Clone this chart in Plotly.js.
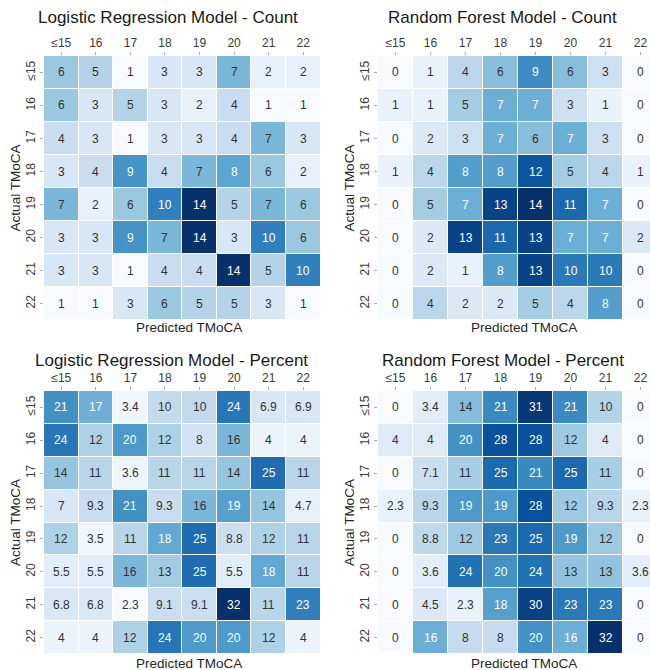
<!DOCTYPE html>
<html><head><meta charset="utf-8">
<script src="https://cdn.plot.ly/plotly-3.0.1.min.js"></script>
<style>html,body{margin:0;padding:0;overflow:hidden;background:#fff}#chart{width:660px;height:670px}</style>
</head><body><div id="chart"></div>
<script>
const tmocaLabels = ['≤15','16','17','18','19','20','21','22'];
const panelTitles = ['Logistic Regression Model - Count','Random Forest Model - Count','Logistic Regression Model - Percent','Random Forest Model - Percent'];
const xAxisTitle = 'Predicted TMoCA';
const yAxisTitle = 'Actual TMoCA';

const lrCount = [
  [6,5,1,3,3,7,2,2],
  [6,3,5,3,2,4,1,1],
  [4,3,1,3,3,4,7,3],
  [3,4,9,4,7,8,6,2],
  [7,2,6,10,14,5,7,6],
  [3,3,9,7,14,3,10,6],
  [3,3,1,4,4,14,5,10],
  [1,1,3,6,5,5,3,1]
];
const rfCount = [
  [0,1,4,6,9,6,3,0],
  [1,1,5,7,7,3,1,0],
  [0,2,3,7,6,7,3,0],
  [1,4,8,8,12,5,4,1],
  [0,5,7,13,14,11,7,0],
  [0,2,13,11,13,7,7,2],
  [0,2,1,8,13,10,10,0],
  [0,4,2,2,5,4,8,0]
];
const lrPercent = [
  [21,17,3.4,10,10,24,6.9,6.9],
  [24,12,20,12,8,16,4,4],
  [14,11,3.6,11,11,14,25,11],
  [7,9.3,21,9.3,16,19,14,4.7],
  [12,3.5,11,18,25,8.8,12,11],
  [5.5,5.5,16,13,25,5.5,18,11],
  [6.8,6.8,2.3,9.1,9.1,32,11,23],
  [4,4,12,24,20,20,12,4]
];
const rfPercent = [
  [0,3.4,14,21,31,21,10,0],
  [4,4,20,28,28,12,4,0],
  [0,7.1,11,25,21,25,11,0],
  [2.3,9.3,19,19,28,12,9.3,2.3],
  [0,8.8,12,23,25,19,12,0],
  [0,3.6,24,20,24,13,13,3.6],
  [0,4.5,2.3,18,30,23,23,0],
  [0,16,8,8,20,16,32,0]
];

// matplotlib "Blues"
const bluesHex = ['#f7fbff','#deebf7','#c6dbef','#9ecae1','#6baed6','#4292c6','#2171b5','#08519c','#08306b'];
const bluesScale = bluesHex.map((c,i)=>[i/(bluesHex.length-1), c]);
function hexRgb(h){return [parseInt(h.slice(1,3),16),parseInt(h.slice(3,5),16),parseInt(h.slice(5,7),16)];}
function colorAt(t){
  t=Math.max(0,Math.min(1,t));
  const p=t*(bluesHex.length-1), i=Math.min(Math.floor(p),bluesHex.length-2), f=p-i;
  const a=hexRgb(bluesHex[i]), b=hexRgb(bluesHex[i+1]);
  return a.map((v,k)=>v+(b[k]-v)*f);
}
function lum(rgb){
  const l=rgb.map(v=>{v/=255;return v<=0.03928? v/12.92: Math.pow((v+0.055)/1.055,2.4);});
  return 0.2126*l[0]+0.7152*l[1]+0.0722*l[2];
}

const W=660,H=670;
// pixel boxes [left,right,top,bottom]
const boxes = [[44,320.5,56,320],[378,658,56,320],[44,320.5,391,654],[378,658,391,654]];
const titlePos = [[168,18],[502,18],[171,360],[503,360]];
const xtitlePos = [[189,328],[524,328],[189,663],[524,663]];
const mats = [lrCount, rfCount, lrPercent, rfPercent];

const data=[], annotations=[], layout={
  width:W,height:H,margin:{l:0,r:0,t:0,b:0},
  paper_bgcolor:'#fff',plot_bgcolor:'#fff',
  font:{family:'Liberation Sans, Arial, sans-serif',color:'#262626'},
  showlegend:false
};
const fmt = v => String(v);
mats.forEach((m,idx)=>{
  const n=idx===0?'':String(idx+1);
  const xa='x'+n, ya='y'+n;
  const flat=m.flat(); const zmin=Math.min(...flat), zmax=Math.max(...flat);
  data.push({type:'heatmap',x:tmocaLabels,y:tmocaLabels,z:m,xaxis:xa,yaxis:ya,
    colorscale:bluesScale,zmin:zmin,zmax:zmax,showscale:false,xgap:1,ygap:1,hoverinfo:'x+y+z'});
  const b=boxes[idx];
  layout['xaxis'+n]={domain:[b[0]/W,b[1]/W],anchor:ya,side:'top',type:'category',
    categoryorder:'array',categoryarray:tmocaLabels,range:[-0.5,7.5],ticks:'outside',ticklen:3,tickwidth:1,tickcolor:'#aaa',
    showgrid:false,zeroline:false,showline:false,tickfont:{size:12,color:'#3a3a3a'},fixedrange:true};
  layout['yaxis'+n]={domain:[1-b[3]/H,1-b[2]/H],anchor:xa,type:'category',range:[7.5,-0.5],
    categoryorder:'array',categoryarray:tmocaLabels,ticks:'outside',ticklen:3,tickwidth:1,tickcolor:'#aaa',
    tickangle:-90,showgrid:false,zeroline:false,showline:false,tickfont:{size:12,color:'#3a3a3a'},
    title:{text:yAxisTitle,font:{size:13.5,color:'#262626'},standoff:0},fixedrange:true};
  m.forEach((row,r)=>row.forEach((v,c)=>{
    const col=colorAt((v-zmin)/(zmax-zmin));
    annotations.push({xref:xa,yref:ya,x:c,y:r,text:fmt(v),showarrow:false,
      font:{size:12,color: lum(col)>0.408?'#333333':'#ffffff'}});
  }));
  annotations.push({xref:'paper',yref:'paper',x:titlePos[idx][0]/W,y:1-titlePos[idx][1]/H,xanchor:'center',yanchor:'middle',
    text:panelTitles[idx],showarrow:false,font:{size:17,color:'#1a1a1a'}});
  annotations.push({xref:'paper',yref:'paper',x:xtitlePos[idx][0]/W,y:1-xtitlePos[idx][1]/H,xanchor:'center',yanchor:'middle',
    text:xAxisTitle,showarrow:false,font:{size:13.5,color:'#262626'}});
});
layout.annotations=annotations;
Plotly.newPlot('chart',data,layout,{displayModeBar:false,staticPlot:true});
</script></body></html>
